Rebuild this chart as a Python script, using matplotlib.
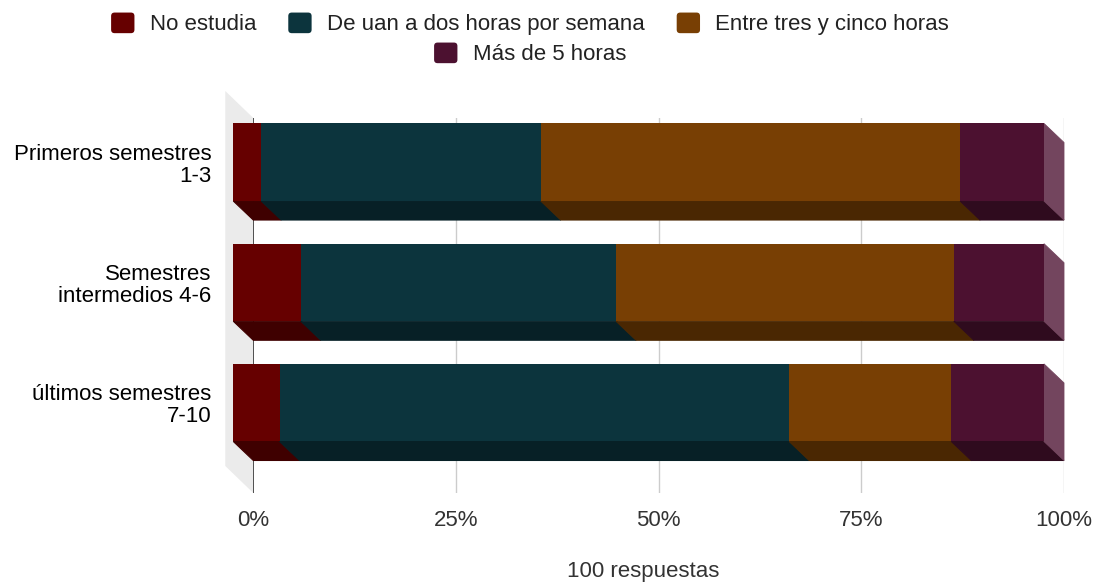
import numpy as np
import matplotlib as mpl
mpl.use('Agg')
import matplotlib.pyplot as plt
from matplotlib.patches import Polygon, Patch, FancyBboxPatch
from matplotlib.legend_handler import HandlerPatch
from matplotlib.colors import to_rgb

mpl.rcParams['font.family'] = ['Liberation Sans', 'DejaVu Sans']
mpl.rcParams['font.size'] = 16
mpl.rcParams['text.color'] = '#222222'

# data (respuestas por grupo)
groups = ['Primeros semestres\n1-3', 'Semestres\nintermedios 4-6', 'últimos semestres\n7-10']
series = ['No estudia', 'De uan a dos horas por semana', 'Entre tres y cinco horas', 'Más de 5 horas']
no_estudia = [1, 3, 2]
una_dos = [10, 14, 22]
tres_cinco = [15, 15, 7]
mas_cinco = [3, 4, 4]
colors = ['#660000', '#0c343d', '#783f04', '#4c1130']
xticks = [0, 25, 50, 75, 100]
xticklabels = ['0%', '25%', '50%', '75%', '100%']

counts = np.array([no_estudia, una_dos, tres_cinco, mas_cinco], dtype=float)
pct = counts / counts.sum(axis=0) * 100

W, H = 1095, 583
fig = plt.figure(figsize=(W / 100, H / 100), dpi=100)
# axes: 0% at x=253, 100% at x=1064, y from 118 to 493 px
ax = fig.add_axes([253.3 / W, 1 - 493 / H, 810.7 / W, 375 / H])
ax.set_xlim(0, 100)
ax.set_ylim(2.593, -0.526)
for s in ax.spines.values():
    s.set_visible(False)

dx = 20 / 8.107     # depth in x (percent)
dy = 19 / 120.25    # depth in y (category units)
h = 0.645


def shade(c, f):
    r, g, b = to_rgb(c)
    return (r * f, g * f, b * f)


def tint(c, f):
    r, g, b = to_rgb(c)
    return (r + (1 - r) * f, g + (1 - g) * f, b + (1 - b) * f)


# left wall
wdx, wdy = 28 / 8.107, 27 / 120.25
ylo, yhi = ax.get_ylim()
ax.add_patch(Polygon([(-wdx, yhi - wdy), (0, yhi), (0, ylo), (-wdx, ylo - wdy)],
                     closed=True, fc='#ebebeb', ec='none', clip_on=False, zorder=0))

# gridlines
for x in xticks:
    ax.axvline(x, color='#333333' if x == 0 else '#cccccc', lw=1.2 if x == 0 else 1.0, zorder=1)

ypos = np.arange(len(groups))
left = np.zeros(len(groups))
for k, (name, c) in enumerate(zip(series, colors)):
    vals = pct[k]
    for i in range(len(groups)):
        l, r = left[i], left[i] + vals[i]
        yb = ypos[i] + h / 2
        dark = shade(c, 0.62)
        ax.add_patch(Polygon([(l - dx, yb - dy), (r - dx, yb - dy), (r, yb), (l, yb)],
                             closed=True, fc=dark, ec=dark, lw=0.8, clip_on=False, zorder=2))
        if k == len(series) - 1:
            yt = ypos[i] - h / 2
            light = tint(c, 0.22)
            ax.add_patch(Polygon([(r - dx, yt - dy), (r, yt), (r, yb), (r - dx, yb - dy)],
                                 closed=True, fc=light, ec=light, lw=0.6, clip_on=False, zorder=2))
    ax.barh(ypos - dy, vals, left=left - dx, height=h, color=c, clip_on=False, zorder=3)
    left += vals

ax.set_yticks(ypos - dy)
ax.set_yticklabels(groups, linespacing=1.05)
ax.tick_params(axis='y', length=0, pad=30)
ax.set_xticks(xticks)
ax.set_xticklabels(xticklabels, color='#333333')
ax.tick_params(axis='x', length=0, pad=12)

fig.text(643 / W, 1 - 572 / H, '100 respuestas', ha='center', va='center', color='#333333')


def rounded(legend, orig_handle, xdescent, ydescent, width, height, fontsize):
    return FancyBboxPatch((-xdescent, -ydescent), width, height,
                          boxstyle='round,pad=0,rounding_size=2.5')


handles = [Patch(fc=c, ec='none') for c in colors]
lkw = dict(frameon=False, fontsize=16, handlelength=1.05, handleheight=1.05,
           handletextpad=0.68, columnspacing=1.45, borderpad=0, borderaxespad=0,
           handler_map={Patch: HandlerPatch(patch_func=rounded)})
fig.legend(handles[:3], series[:3], loc='center', bbox_to_anchor=(530 / W, 1 - 24 / H), ncol=3, **lkw)
fig.legend(handles[3:], series[3:], loc='center', bbox_to_anchor=(530 / W, 1 - 54 / H), ncol=1, **lkw)

fig.savefig('out.png', dpi=100)
